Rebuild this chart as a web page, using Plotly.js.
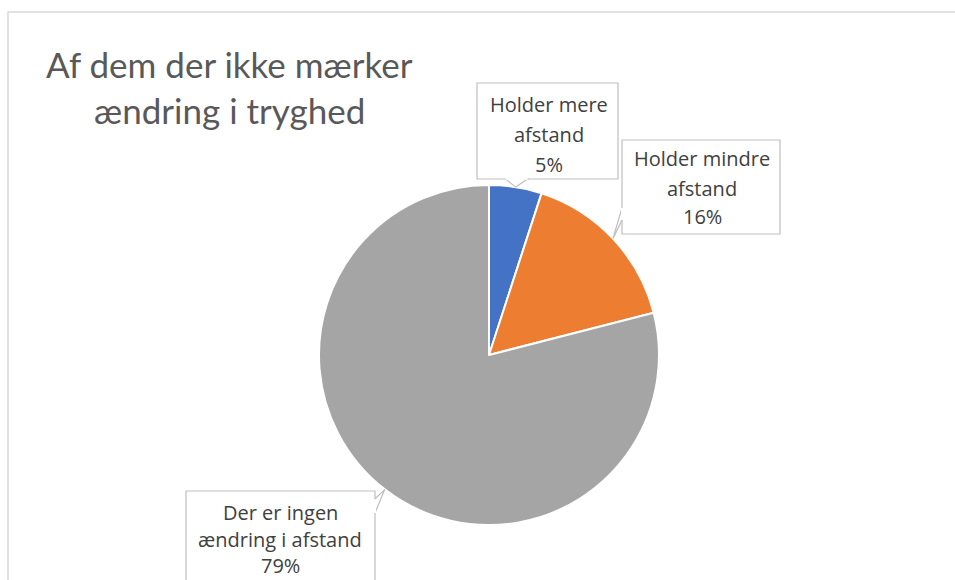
<!DOCTYPE html>
<html>
<head>
<meta charset="utf-8">
<script src="https://cdn.plot.ly/plotly-3.0.1.min.js"></script>
<style>
html,body{margin:0;padding:0;background:#fff;}
#chart{width:955px;height:580px;}
</style>
</head>
<body>
<div id="chart"></div>
<script>
// ---- data ----
const categories = ["Holder mere afstand", "Holder mindre afstand", "Der er ingen ændring i afstand"];
const labelLines = [["Holder mere", "afstand"], ["Holder mindre", "afstand"], ["Der er ingen", "ændring i afstand"]];
const values = [5, 16, 79];
const colors = ["#4472C4", "#ED7D31", "#A5A5A5"];
const titleLines = ["Af dem der ikke mærker", "ændring i tryghed"];

// ---- layout helpers (pixel -> paper, margins are zero) ----
const W = 955, H = 580;
const X = p => p / W;
const Y = p => 1 - p / H;
const cx = 489, cy = 355, R = 170;

const total = values.reduce((a, b) => a + b, 0);
const pct = values.map(v => Math.round(v / total * 100) + "%");

// mid-angle edge points of each slice (clockwise from 12 o'clock)
let acc = 0;
const tips = values.map(v => {
  const mid = (acc + v / 2) / total * 2 * Math.PI;
  acc += v;
  return [cx + R * Math.sin(mid), cy - R * Math.cos(mid)];
});

// label boxes [x0,y0,x1,y1] in pixels, text centre x, line centres
const boxes = [
  {b: [477, 83, 618, 179], tx: 549, ty: [105, 134, 164]},
  {b: [622, 140, 780, 234], tx: 702, ty: [158, 188, 216]},
  {b: [186, 491, 375, 600], tx: 280, ty: [512, 539, 565]}
];

const labelFont = {family: "'Open Sans', Lato, sans-serif", size: 20, color: "#404040"};
const shapes = [];
const annotations = [];

// chart border
shapes.push({type: "rect", xref: "paper", yref: "paper", x0: X(8), x1: X(960), y0: Y(12), y1: Y(590),
  line: {color: "#d9d9d9", width: 1.5}, fillcolor: "rgba(0,0,0,0)", layer: "below"});

// title
titleLines.forEach((t, i) => {
  annotations.push({text: t, xref: "paper", yref: "paper", x: X(229), y: Y([64, 110][i]),
    xanchor: "center", yanchor: "middle", showarrow: false,
    font: {family: "Lato, 'Open Sans', sans-serif", size: 35, color: "#595959"}});
});

// callouts
boxes.forEach((bx, i) => {
  const [x0, y0, x1, y1] = bx.b;
  shapes.push({type: "rect", xref: "paper", yref: "paper", x0: X(x0), x1: X(x1), y0: Y(y0), y1: Y(y1),
    line: {color: "#bfbfbf", width: 1.2}, fillcolor: "#ffffff"});
  const [tx, ty] = tips[i];
  let a, b;
  if (i === 0) { a = [tx - 10, y1]; b = [tx + 12, y1]; }
  else if (i === 1) { a = [x0, y0 + 68]; b = [x0, y0 + 80]; }
  else { a = [x1, y0 + 8]; b = [x1, y0 + 22]; }
  shapes.push({type: "path", xref: "paper", yref: "paper",
    path: `M${X(a[0])},${Y(a[1])} L${X(tx)},${Y(ty)} L${X(b[0])},${Y(b[1])} Z`,
    line: {color: "#bfbfbf", width: 1.2}, fillcolor: "#ffffff"});
  // cover the box edge between the two base points
  shapes.push({type: "path", xref: "paper", yref: "paper",
    path: `M${X(a[0])},${Y(a[1])} L${X(b[0])},${Y(b[1])}`,
    line: {color: "#ffffff", width: 2}});
  const lines = [labelLines[i][0], labelLines[i][1], pct[i]];
  lines.forEach((t, k) => {
    annotations.push({text: t, xref: "paper", yref: "paper", x: X(bx.tx), y: Y(bx.ty[k]),
      xanchor: "center", yanchor: "middle", showarrow: false, font: labelFont});
  });
});

const trace = {
  type: "pie",
  labels: categories,
  values: values,
  sort: false,
  direction: "clockwise",
  rotation: 0,
  textinfo: "none",
  hoverinfo: "label+percent",
  marker: {colors: colors, line: {color: "#ffffff", width: 2}},
  domain: {x: [X(cx - R), X(cx + R)], y: [Y(cy + R), Y(cy - R)]}
};

const layout = {
  width: W, height: H,
  margin: {l: 0, r: 0, t: 0, b: 0},
  showlegend: false,
  paper_bgcolor: "#ffffff",
  shapes: shapes,
  annotations: annotations
};

Plotly.newPlot("chart", [trace], layout, {displayModeBar: false, staticPlot: true});
</script>
</body>
</html>
